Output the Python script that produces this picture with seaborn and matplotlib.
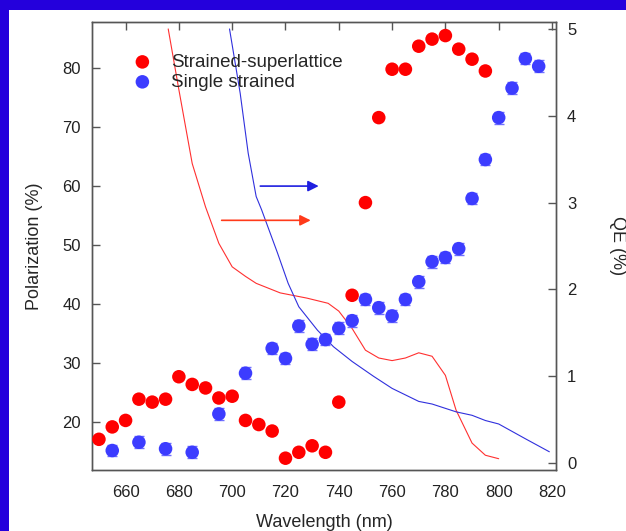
import matplotlib
matplotlib.use("Agg")
import matplotlib.pyplot as plt
import seaborn as sns
import pandas as pd
from matplotlib.patches import Rectangle

# polarization data (left axis)
wl_ssl = [650, 655, 660, 665, 670, 675, 680, 685, 690, 695, 700, 705, 710, 715,
          720, 725, 730, 735, 740, 745, 750, 755, 760, 765, 770, 775, 780, 785,
          790, 795]
pol_ssl = [17.1, 19.2, 20.3, 23.9, 23.4, 23.9, 27.7, 26.4, 25.8, 24.1, 24.4, 20.3,
           19.6, 18.5, 13.9, 14.9, 16.0, 14.9, 23.4, 41.5, 57.2, 71.6, 79.8, 79.8,
           83.7, 84.9, 85.5, 83.2, 81.5, 79.5]
err_ssl = [0.5] * len(wl_ssl)

wl_ss = [655, 665, 675, 685, 695, 705, 715, 720, 725, 730, 735, 740, 745, 750,
         755, 760, 765, 770, 775, 780, 785, 790, 795, 800, 805, 810, 815]
pol_ss = [15.2, 16.6, 15.5, 14.9, 21.4, 28.3, 32.5, 30.8, 36.3, 33.2, 34.0, 35.9,
          37.2, 40.8, 39.4, 38.0, 40.8, 43.8, 47.2, 47.9, 49.4, 57.9, 64.5, 71.6,
          76.6, 81.6, 80.3]
err_ss = [1.0] * len(wl_ss)

# QE curves (right axis)
qe_ssl_wl = [676, 680, 685, 690, 695, 700, 705, 709, 718, 728, 736, 740, 745,
             750, 755, 760, 765, 770, 775, 780, 784, 790, 795, 800]
qe_ssl = [5.0, 4.3, 3.45, 2.95, 2.53, 2.26, 2.15, 2.07, 1.96, 1.90, 1.84, 1.75, 1.55,
          1.30, 1.21, 1.18, 1.21, 1.27, 1.23, 1.01, 0.61, 0.23, 0.09, 0.05]
qe_ss_wl = [699, 703, 706, 709, 711, 717, 721, 725, 732, 738, 745, 753, 760, 770,
            775, 784, 790, 795, 800, 810, 819]
qe_ss = [5.0, 4.26, 3.57, 3.07, 2.92, 2.42, 2.07, 1.80, 1.53, 1.34, 1.17, 1.0,
         0.86, 0.71, 0.68, 0.59, 0.55, 0.49, 0.45, 0.28, 0.13]

RED = "#ff0000"
BLUE = "#3c3cff"
GREY = "#555555"

sns.set_theme(style="white")
plt.rcParams["font.family"] = ["Liberation Sans", "DejaVu Sans"]

fig = plt.figure(figsize=(6.26, 5.31), dpi=100)
fig.patch.set_facecolor("#2400dc")
fig.patches.append(Rectangle((9 / 626, 0), 1 - 9 / 626, 1 - 10 / 531,
                             transform=fig.transFigure, facecolor="white",
                             edgecolor="none", zorder=-5))

ax = fig.add_axes([92 / 626, 61 / 531, 464 / 626, 448 / 531])
ax2 = ax.twinx()
ax.patch.set_alpha(0)
ax2.patch.set_alpha(0)

df_ssl = pd.DataFrame({"wl": wl_ssl, "pol": pol_ssl, "err": err_ssl})
df_ss = pd.DataFrame({"wl": wl_ss, "pol": pol_ss, "err": err_ss})

# QE lines on right axis
sns.lineplot(x=qe_ssl_wl, y=qe_ssl, ax=ax2, color="#ff3030", lw=0.8, sort=False)
sns.lineplot(x=qe_ss_wl, y=qe_ss, ax=ax2, color="#3030dd", lw=0.8, sort=False)

ax.set_zorder(ax2.get_zorder() + 1)

ax.errorbar(df_ssl.wl, df_ssl.pol, yerr=df_ssl.err, fmt="none", ecolor="#ff6060",
            capsize=3, elinewidth=0.8, zorder=2)
ax.errorbar(df_ss.wl, df_ss.pol, yerr=df_ss.err, fmt="none", ecolor="#7070ff",
            capsize=3.5, elinewidth=0.8, zorder=2)
sns.scatterplot(data=df_ssl, x="wl", y="pol", ax=ax, color=RED, s=95,
                edgecolor="none", label="Strained-superlattice", zorder=3)
sns.scatterplot(data=df_ss, x="wl", y="pol", ax=ax, color=BLUE, s=95,
                edgecolor="none", label="Single strained", zorder=3)

# arrows pointing to the QE axis
ax.annotate("", xy=(733.5, 60.0), xytext=(709.5, 60.0),
            arrowprops=dict(arrowstyle="-|>", color="#1f1fe0", lw=1.2,
                            mutation_scale=16))
ax.annotate("", xy=(730.5, 54.2), xytext=(695, 54.2),
            arrowprops=dict(arrowstyle="-|>", color="#ff3a1a", lw=1.2,
                            mutation_scale=16))

ax.set_xlim(647.4, 821.5)
ax.set_ylim(11.9, 87.8)
ax2.set_ylim(-0.08, 5.08)
ax.set_xticks(range(660, 821, 20))
ax.set_yticks(range(20, 81, 10))
ax2.set_yticks(range(0, 6))

ax.set_xlabel("Wavelength (nm)", fontsize=13, labelpad=10)
ax.set_ylabel("Polarization (%)", fontsize=13, labelpad=14)
ax2.set_ylabel("QE (%)", fontsize=13, rotation=-90, labelpad=36)

for a in (ax, ax2):
    for s in a.spines.values():
        s.set_color(GREY)
        s.set_linewidth(1.0)
ax.tick_params(axis="both", direction="in", length=6, width=1, color=GREY,
               labelsize=12, top=True, labelcolor="#222222", pad=8)
ax.tick_params(axis="x", pad=11)
ax.tick_params(axis="y", right=False)
ax2.tick_params(axis="y", direction="in", length=6, width=1, color=GREY,
                labelsize=12, labelcolor="#222222", pad=8)

leg = ax.legend(loc="upper left", bbox_to_anchor=(0.052, 0.946), frameon=False,
                fontsize=13.5, handletextpad=0.55, borderaxespad=0,
                labelspacing=0.15, markerscale=1.0)

fig.savefig("out.png", dpi=100, facecolor=fig.get_facecolor())
